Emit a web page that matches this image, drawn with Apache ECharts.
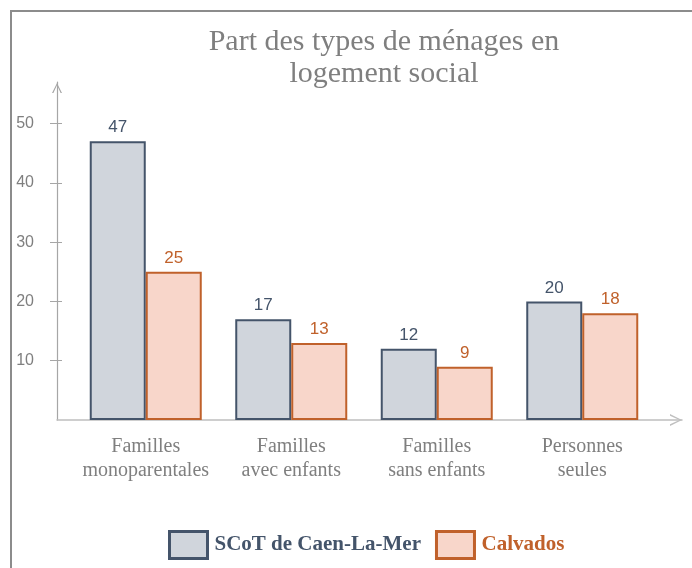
<!DOCTYPE html>
<html>
<head>
<meta charset="utf-8">
<title>Part des types de ménages en logement social</title>
<script src="https://cdn.jsdelivr.net/npm/echarts@6.0.0/dist/echarts.min.js"></script>
<style>
    html, body { margin: 0; padding: 0; background: #fff; }
    #chart { width: 692px; height: 568px; }
</style>
</head>
<body>
<div id="chart"></div>
<script>
// donnees (en %)
var categories = ['Familles\nmonoparentales', 'Familles\navec enfants', 'Familles\nsans enfants', 'Personnes\nseules'];
var scot = [47, 17, 12, 20];
var calvados = [25, 13, 9, 18];
var yTicks = [10, 20, 30, 40, 50];
var seriesNames = ['SCoT de Caen-La-Mer', 'Calvados'];

var serif = '"Liberation Serif", "DejaVu Serif", serif';
var sans = '"Liberation Sans", Arial, sans-serif';

// fleche ouverte pour les axes
var chevron = 'path://M5,0 L10,10 L8.6,10 L5,2.2 L1.4,10 L0,10 Z';

var yMax = 57;
var gridTop = 82;
var gridBottom = 148;

var option = {
    animation: false,
    backgroundColor: '#ffffff',
    title: {
        text: 'Part des types de ménages en\nlogement social',
        left: 384,
        top: 26,
        padding: 0,
        textAlign: 'center',
        textStyle: {
            fontFamily: serif,
            fontSize: 30,
            fontWeight: 'normal',
            color: '#7f7f7f',
            lineHeight: 32
        }
    },
    legend: {
        left: 163,
        top: 525,
        icon: 'rect',
        itemWidth: 38,
        itemHeight: 27,
        itemGap: 14,
        itemStyle: {
            borderWidth: 3
        },
        textStyle: {
            fontFamily: serif,
            fontSize: 21,
            fontWeight: 'bold',
            padding: [0, 0, 0, 2]
        },
        data: [
            { name: seriesNames[0], textStyle: { color: '#44546a' } },
            { name: seriesNames[1], textStyle: { color: '#c0612b' } }
        ]
    },
    graphic: [{
        type: 'rect',
        silent: true,
        shape: { x: 11, y: 11, width: 720, height: 620 },
        style: { fill: 'none', stroke: '#8c8c8c', lineWidth: 2 }
    }],
    grid: [
        // barres
        { left: 73, right: 37, top: gridTop, bottom: gridBottom },
        // axes avec fleches
        { left: 57, right: 10, top: gridTop, bottom: gridBottom },
        // partie interieure des graduations
        { left: 57, right: 10, top: gridTop, bottom: gridBottom }
    ],
    xAxis: [{
        gridIndex: 0,
        type: 'category',
        data: categories,
        axisLine: { show: false },
        axisTick: { show: false },
        axisLabel: {
            interval: 0,
            margin: 15,
            fontFamily: serif,
            fontSize: 20,
            lineHeight: 24,
            color: '#7f7f7f'
        }
    }, {
        gridIndex: 1,
        type: 'value',
        min: 0,
        max: 1,
        axisLine: {
            show: true,
            lineStyle: { color: '#bfbfbf', width: 1.5 },
            symbol: ['none', chevron],
            symbolSize: [12, 12],
            symbolOffset: [0, -6]
        },
        axisTick: { show: false },
        axisLabel: { show: false },
        splitLine: { show: false }
    }, {
        gridIndex: 2,
        type: 'value',
        min: 0,
        max: 1,
        show: false
    }],
    yAxis: [{
        gridIndex: 0,
        type: 'value',
        min: 0,
        max: yMax,
        show: false
    }, {
        gridIndex: 1,
        type: 'value',
        min: 0,
        max: yMax,
        axisLine: {
            show: true,
            lineStyle: { color: '#a6a6a6', width: 1.2 },
            symbol: ['none', chevron],
            symbolSize: [10, 12],
            symbolOffset: [0, -6]
        },
        axisTick: {
            show: true,
            length: 7,
            customValues: yTicks,
            lineStyle: { color: '#a6a6a6' }
        },
        axisLabel: {
            customValues: yTicks,
            margin: 23,
            fontFamily: sans,
            fontSize: 16,
            color: '#7f7f7f'
        },
        splitLine: { show: false }
    }, {
        gridIndex: 2,
        type: 'value',
        min: 0,
        max: yMax,
        axisLine: { show: false },
        axisTick: {
            show: true,
            inside: true,
            length: 5,
            customValues: yTicks,
            lineStyle: { color: '#a6a6a6' }
        },
        axisLabel: { show: false },
        splitLine: { show: false }
    }],
    series: [{
        name: seriesNames[0],
        type: 'bar',
        xAxisIndex: 0,
        yAxisIndex: 0,
        barWidth: 56,
        barGap: '0%',
        data: scot,
        itemStyle: {
            color: '#d0d5dc',
            borderColor: '#44546a',
            borderWidth: 2
        },
        label: {
            show: true,
            position: 'top',
            distance: 5,
            fontFamily: sans,
            fontSize: 17,
            color: '#44546a'
        }
    }, {
        name: seriesNames[1],
        type: 'bar',
        xAxisIndex: 0,
        yAxisIndex: 0,
        barWidth: 56,
        barGap: '0%',
        data: calvados,
        itemStyle: {
            color: '#f8d6ca',
            borderColor: '#c0612b',
            borderWidth: 2
        },
        label: {
            show: true,
            position: 'top',
            distance: 5,
            fontFamily: sans,
            fontSize: 17,
            color: '#c0612b'
        }
    }]
};

var myChart = echarts.init(document.getElementById('chart'));
myChart.setOption(option);
</script>
</body>
</html>
